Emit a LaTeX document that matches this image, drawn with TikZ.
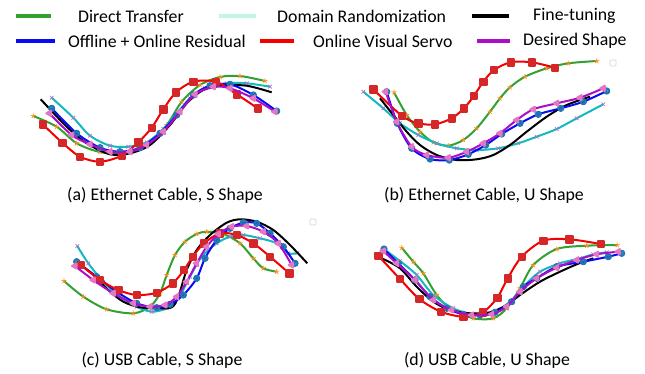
\documentclass[tikz,border=0pt]{standalone}
\usepackage{fontspec}
\setmainfont{Carlito}
\usetikzlibrary{plotmarks}
\definecolor{dtgreen}{RGB}{50, 160, 50}
\definecolor{drcyan}{RGB}{20, 185, 190}
\definecolor{drpale}{RGB}{195, 245, 228}
\definecolor{orblue}{RGB}{10, 10, 245}
\definecolor{vsred}{RGB}{245, 0, 0}
\definecolor{dspurple}{RGB}{170, 15, 200}
\definecolor{mkorange}{RGB}{255, 140, 20}
\definecolor{mklav}{RGB}{160, 120, 200}
\definecolor{mkblue}{RGB}{31, 119, 180}
\definecolor{mkred}{RGB}{214, 39, 40}
\definecolor{mkpink}{RGB}{227, 119, 194}

\begin{document}
\begin{tikzpicture}[x=1pt, y=-1pt,
    every node/.style={font=\fontsize{17.8}{20}\selectfont, inner sep=0pt},
    legline/.style={line width=4pt},
    legtext/.style={anchor=west},
    curve/.style={line width=2pt, line join=round},
    dtcurve/.style={curve, dtgreen, mark=star, mark size=2.6pt,
        mark options={draw=mkorange, line width=0.7pt}},
    drcurve/.style={curve, drcyan, mark=x, mark size=2.6pt,
        mark options={draw=mklav, line width=0.7pt}},
    ftcurve/.style={curve, black},
    orcurve/.style={curve, orblue, mark=*, mark size=2.6pt,
        mark options={fill=mkblue, draw=mkblue, fill opacity=0.8}},
    vscurve/.style={curve, vsred, mark=square*, mark size=3.2pt,
        mark options={fill=mkred, draw=mkred}},
    dscurve/.style={curve, dspurple, mark=triangle*, mark size=3pt,
        mark options={fill=mkpink, draw=mkpink, rotate=90}},
    emptybox/.style={draw=gray!35, line width=0.6pt, rounded corners=1pt}]
    \useasboundingbox (0, 0) rectangle (645, 373);

    % legend
    \draw[legline, dtgreen] (16, 16) -- (51, 16);
    \node[legtext] (ldt) at (78, 16) {Direct Transfer};
    \draw[legline, drpale] (219, 16) -- (256, 16);
    \node[legtext] (ldr) at (277, 16) {Domain Randomization};
    \draw[legline, black] (472, 16) -- (509, 16);
    \node[legtext] (lft) at (533, 16) {Fine-tuning};
    \draw[legline, orblue] (16, 41) -- (55, 41);
    \node[legtext] (lor) at (68, 41) {Offline + Online Residual};
    \draw[legline, vsred] (260, 41) -- (294, 41);
    \node[legtext] (lvs) at (313, 41) {Online Visual Servo};
    \draw[legline, dspurple] (477, 41) -- (510, 41);
    \node[legtext] (lds) at (523, 41) {Desired Shape};

    % (a) ethernet, S
    \draw[dtcurve] plot[smooth] coordinates {(33.3,116) (56.7,126.7) (76.7,143.3) (100,152) (123.3,153) (146.7,145) (166.7,125) (181.7,101.7) (200,85) (220,77) (240,76) (265,81)};
    \draw[drcurve] plot[smooth] coordinates {(51.7,97.7) (73.3,117.7) (90,135.7) (110,145.7) (128.3,146.7) (146.7,142.3) (163.3,129) (176.7,113.3) (190,98.3) (205,88.3) (226.7,83.3) (246.7,83.3) (270,86.7)};
    \draw[ftcurve] plot[smooth] coordinates {(40.7,99.3) (66.7,126.7) (86.7,143.3) (110,154.3) (130,153.3) (150,145) (170,125) (186.7,103.3) (203.3,90) (223.3,85.7) (246.7,85.7) (271.7,92.3)};
    \draw[orcurve] plot[smooth] coordinates {(51.7,108.3) (76.7,133.3) (100,147.7) (120,151.7) (140,147.7) (160,133.3) (176.7,115) (193.3,95) (210,85.7) (230,84.3) (253.3,95) (276.7,111)};
    \draw[vscurve] plot[smooth] coordinates {(42.7,124.3) (62.3,142.7) (80,156.7) (100,161.7) (121.7,155.7) (138.3,142.3) (151.7,127.7) (163.3,109.3) (176,92.3) (193.3,81.7) (216,81.7) (236.7,94.3) (257.7,108.3)};
    \draw[dscurve] plot[smooth] coordinates {(49.3,113.3) (71.7,135) (90,144.3) (110,151.7) (130,151.7) (146.7,145) (163.3,131.7) (180,111.7) (195,94.3) (213.3,86.7) (230,88.3) (253.3,98.3) (275,111.7)};
    \node (capa) at (165, 195) {(a) Ethernet Cable, S Shape};

    % (b) ethernet, U
    \draw[dtcurve] plot[smooth] coordinates {(394,92.3) (406.7,115) (420,131.7) (433.3,142.3) (448.3,145.7) (463.3,140) (476.7,128.3) (490,111.7) (500,98.3) (510,87.3) (525,76.7) (546.7,68.3) (568.3,63.3) (596.7,61)};
    \draw[drcurve] plot[smooth] coordinates {(363.3,91.7) (383.3,108.3) (400,123.3) (418.3,135) (436.7,143.3) (456.7,148.3) (476.7,150) (498.3,148.3) (518.3,143.3) (536.7,136.7) (556.7,129) (576.7,118.3) (603.3,104.3)};
    \draw[ftcurve] plot[smooth] coordinates {(380,98.3) (393.3,115) (406.7,131.7) (420,145) (436.7,155) (456.7,160) (476.7,159.3) (493.3,155) (510,145) (526.7,131.7) (546.7,116.7) (566.7,105) (590,96.7)};
    \draw[orcurve] plot[smooth] coordinates {(386.7,91.7) (397.3,123.3) (411.7,148.3) (430,159) (449.3,160) (468.3,154.3) (485.7,145) (501.7,134) (520,123.3) (538.3,114.3) (560.7,108.3) (583.3,101.7) (606.7,91)};
    \draw[vscurve] plot[smooth] coordinates {(373.3,89.3) (401.7,115.7) (418.3,123.3) (435,124.3) (451.7,118.3) (464,108.3) (474,95.7) (483.3,81.7) (494,70) (510.7,62.3) (531.7,62.3) (555,67.7)};
    \draw[dscurve] plot[smooth] coordinates {(385.7,91.7) (396.7,121.7) (411.7,146.7) (426.7,155) (448.3,157.7) (466.7,151.7) (483.3,143.3) (500,133.3) (516.7,120) (533.3,109.3) (556.7,103.3) (580,97.7) (603.3,88.3)};
    \draw[emptybox] (610, 60) rectangle ++(6, 6);
    \node (capb) at (484, 195) {(b) Ethernet Cable, U Shape};

    % (c) usb, S
    \draw[dtcurve] plot[smooth] coordinates {(64,281) (83.3,296.7) (106.7,309.3) (133.3,313.3) (150,306.7) (160,293.3) (166.7,275) (175,255) (185,241.7) (196.7,234) (206.7,231.7) (223.3,234) (240,243.3) (253.3,258.3) (263.3,268.3) (276.7,271.7)};
    \draw[drcurve] plot[smooth] coordinates {(77.3,246) (88.3,263.3) (103.3,281.7) (120,296.7) (136.7,306.7) (151.7,311.7) (166.7,308.3) (178.3,298.3) (190,276.7) (201.7,256.7) (216.7,243.3) (230,236.7) (243.3,235) (260,238.3) (276.7,243.3) (288.3,253.3) (297.3,253)};
    \draw[ftcurve] plot[smooth] coordinates {(93.3,275) (108.3,290) (123.3,301.7) (140,307.3) (156.7,308.3) (171.7,307.3) (178.3,296.7) (186.7,270) (196.7,250) (210,235) (226.7,222.7) (240,219.3) (256.7,221.7) (273.3,230) (290,245) (307.3,263.3)};
    \draw[orcurve] plot[smooth] coordinates {(76.7,261.7) (96.7,276.7) (116.7,291.7) (136.7,303.3) (156.7,307.7) (170,304.3) (183.3,295) (196.7,278.3) (205,258.3) (216.7,240) (230,228.3) (243.3,222.7) (256.7,223.3) (270,233.3) (283.3,246.7) (295,263.3)};
    \draw[vscurve] plot[smooth] coordinates {(80.7,265) (100,280) (118.3,290) (136.7,295) (156.7,292.7) (172.7,283.3) (184,270) (192.7,256.7) (204,243.3) (220,233.3) (236.7,235) (253.3,243.3) (270,256.7) (289.3,273.3)};
    \draw[dscurve] plot[smooth] coordinates {(75,266) (93.3,280) (113.3,293.3) (133.3,303.3) (150,306.7) (165,305) (176.7,296.7) (186.7,281.7) (196.7,263.3) (206.7,246.7) (218.3,234) (231.7,226.7) (246.7,226) (263.3,231.7) (278.3,243.3) (291.7,265)};
    \draw[emptybox] (310, 219) rectangle ++(6, 6);
    \node (capc) at (162, 360) {(c) USB Cable, S Shape};

    % (d) usb, U
    \draw[dtcurve] plot[smooth] coordinates {(401.7,247.7) (413.3,261.7) (423.3,273.3) (436.7,295) (450,308.3) (473.3,318.3) (493.3,318.3) (506.7,308.3) (520,288.3) (533.3,265) (556.7,249) (586.7,245.7) (617.3,245)};
    \draw[drcurve] plot[smooth] coordinates {(385,250) (400,261) (416.7,275) (433.3,295) (453.3,308.3) (473.3,314.3) (493.3,312.3) (510,301.7) (523.3,286.7) (540,271.7) (560,263.3) (580,258.3) (593.3,254.3) (606.7,252.3)};
    \draw[ftcurve] plot[smooth] coordinates {(381.7,258.3) (400,268.3) (416.7,286.7) (433.3,301.7) (450,310) (470,313.3) (490,312.3) (506.7,305) (520,295) (540,281.7) (560,271.7) (576.7,264.3) (593.3,258.3)};
    \draw[orcurve] plot[smooth] coordinates {(384,249) (398.3,263.3) (415,280) (430,296.7) (446.7,308.3) (463.3,314.3) (480,315) (495,312.3) (511.7,301.7) (523.3,286.7) (536.7,278.3) (556.7,266.7) (583.3,261.7) (608.3,256.7) (621.7,253.3)};
    \draw[vscurve] plot[smooth] coordinates {(378.3,255.7) (400,279) (419.3,299) (441,311.7) (463.3,316.7) (482.7,312.3) (497.3,297.7) (507.7,278.3) (521.7,256.7) (543.3,240.7) (569.3,239.3) (600.7,244)};
    \draw[dscurve] plot[smooth] coordinates {(383.3,251) (396.7,263.3) (415,280) (433.3,300) (451.7,310) (471.7,315) (491.7,314.3) (506.7,306.7) (520,291.7) (536.7,278.3) (556.7,267.7) (576.7,260) (596.7,254.3) (618.3,251.7)};
    \node (capd) at (487, 360) {(d) USB Cable, U Shape};
\end{tikzpicture}
\end{document}
